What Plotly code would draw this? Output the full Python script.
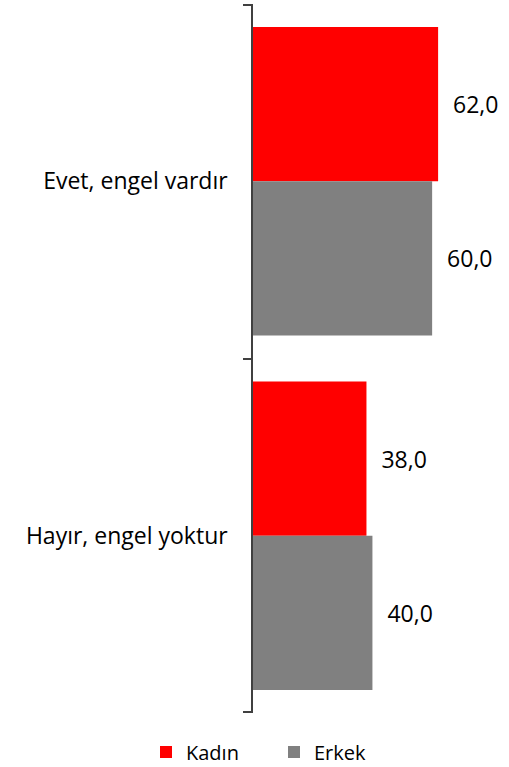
import plotly.graph_objects as go

categories = ["Evet, engel vardır", "Hayır, engel yoktur"]
kadin = [62.0, 38.0]
erkek = [60.0, 40.0]
series_names = ["Kadın", "Erkek"]
boundary_ticks = [-0.5, 0.5, 1.5]

FONT = "Open Sans"
NB = "\u00a0" * 2

fig = go.Figure()
for name, vals, col, lg in [(series_names[0], kadin, "#FF0000", "legend"),
                            (series_names[1], erkek, "#808080", "legend2")]:
    fig.add_trace(go.Bar(
        name=name, y=categories, x=vals, orientation="h",
        marker=dict(color=col, line=dict(width=0)), legend=lg,
        texttemplate=NB + "%{x:.1f}", textposition="outside",
        textfont=dict(family=FONT, size=23, color="black"), cliponaxis=False,
    ))
# empty helper trace so the tick-only overlay axis is drawn
fig.add_trace(go.Scatter(x=[], y=[], yaxis="y2", showlegend=False,
                         hoverinfo="skip"))

legend_common = dict(orientation="h", xanchor="left", xref="container",
                     y=-0.055, yanchor="middle",
                     font=dict(size=20, family=FONT), itemwidth=30,
                     bgcolor="rgba(0,0,0,0)")

fig.update_layout(
    width=509, height=767,
    margin=dict(l=253, r=47, t=4, b=54, autoexpand=False),
    barmode="group", bargap=0.13, bargroupgap=0,
    separators=",.",
    plot_bgcolor="white", paper_bgcolor="white",
    font=dict(family=FONT, size=18, color="black"),
    showlegend=True,
    legend=dict(x=146 / 509, **legend_common),
    legend2=dict(x=274 / 509, **legend_common),
    xaxis=dict(range=[0, 70], showticklabels=False, showgrid=False,
               zeroline=False, showline=False, fixedrange=True),
    yaxis=dict(autorange="reversed", showline=True, linecolor="#404040",
               linewidth=1.5, ticks="", showgrid=False,
               tickfont=dict(size=23, family=FONT),
               ticklabelstandoff=19, automargin=False),
    yaxis2=dict(overlaying="y", side="left", range=[1.502, -0.502],
                tickmode="array", tickvals=boundary_ticks,
                showticklabels=False, ticks="outside", ticklen=9,
                tickcolor="#404040", tickwidth=1.5, showline=False,
                showgrid=False, zeroline=False, automargin=False),
)

fig.write_html("out.html", config={"displayModeBar": False},
               post_script="document.body.style.margin='0';document.body.style.padding='0';")
